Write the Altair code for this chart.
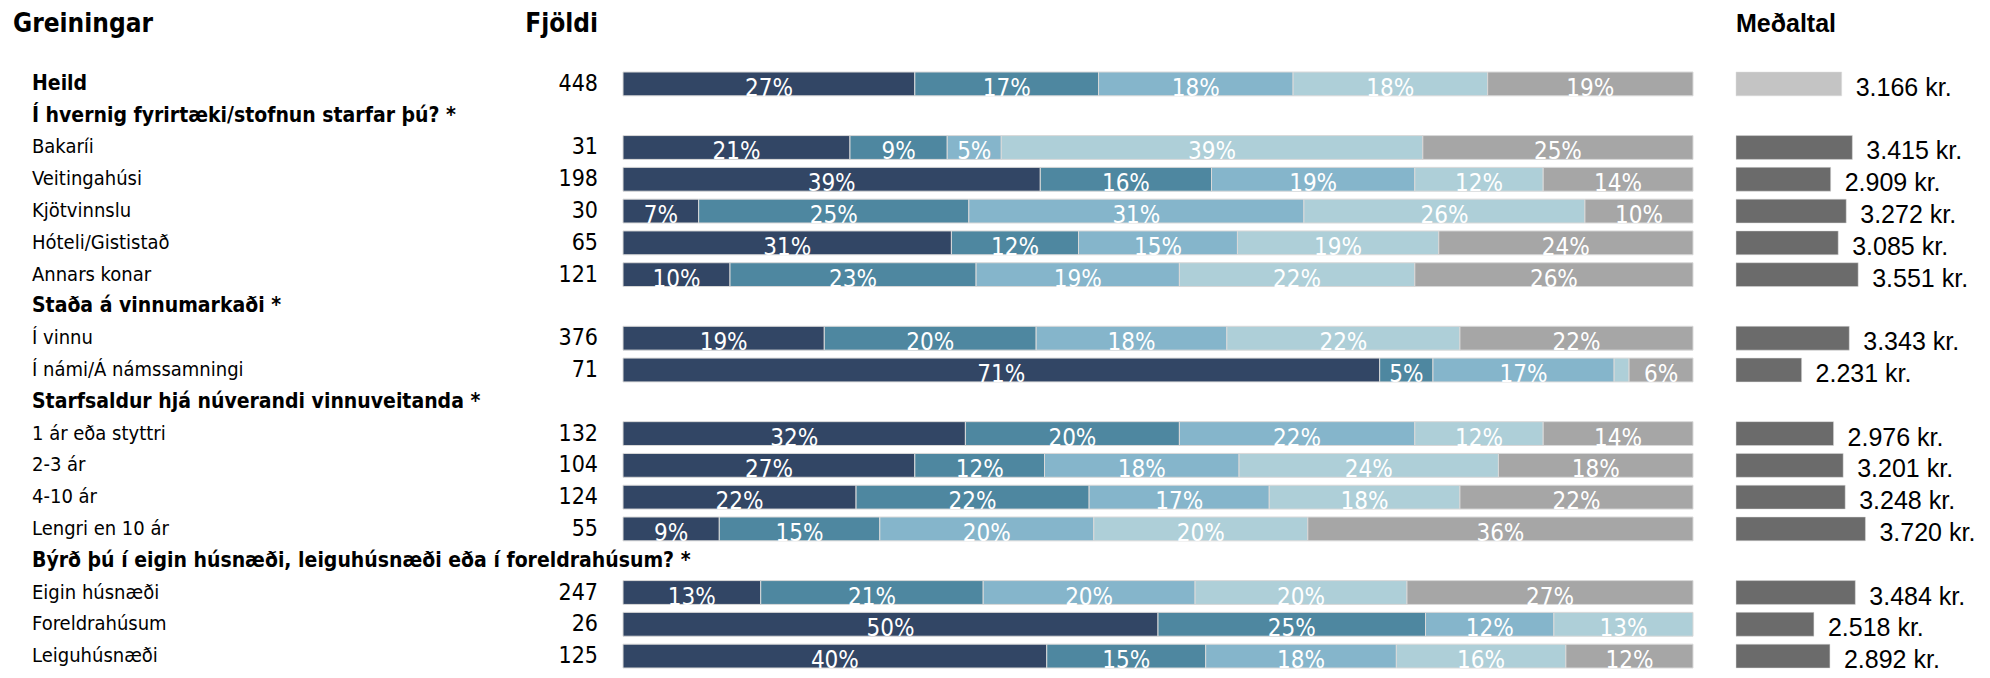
import altair as alt
import pandas as pd

FONT_N = "Liberation Sans Narrow, Arial Narrow, DejaVu Sans Condensed, sans-serif"
FONT_R = "Liberation Sans, Arial, sans-serif"

# ---------------- data ----------------
group_titles = [
    "Í hvernig fyrirtæki/stofnun starfar þú? *",
    "Staða á vinnumarkaði *",
    "Starfsaldur hjá núverandi vinnuveitanda *",
    "Býrð þú í eigin húsnæði, leiguhúsnæði eða í foreldrahúsum? *",
]
group_sizes = [5, 2, 4, 3]

items = ["Heild", "Bakaríi", "Veitingahúsi", "Kjötvinnslu", "Hóteli/Gististað",
         "Annars konar", "Í vinnu", "Í námi/Á námssamningi", "1 ár eða styttri",
         "2-3 ár", "4-10 ár", "Lengri en 10 ár", "Eigin húsnæði",
         "Foreldrahúsum", "Leiguhúsnæði"]
counts = [448, 31, 198, 30, 65, 121, 376, 71, 132, 104, 124, 55, 247, 26, 125]
means = [3.166, 3.415, 2.909, 3.272, 3.085, 3.551, 3.343, 2.231, 2.976,
         3.201, 3.248, 3.720, 3.484, 2.518, 2.892]

p1 = [27, 21, 39, 7, 31, 10, 19, 71, 32, 27, 22, 9, 13, 50, 40]
p2 = [17, 9, 16, 25, 12, 23, 20, 5, 20, 12, 22, 15, 21, 25, 15]
p3 = [18, 5, 19, 31, 15, 19, 18, 17, 22, 18, 17, 20, 20, 12, 18]
p4 = [18, 39, 12, 26, 19, 22, 22, 1.4, 12, 24, 18, 20, 20, 13, 16]
p5 = [19, 25, 14, 10, 24, 26, 22, 6, 14, 18, 22, 36, 27, 0, 12]

cat_names = ["c1", "c2", "c3", "c4", "c5"]
cat_colors = ["#324665", "#4e87a0", "#85b5cb", "#aecfd8", "#a6a6a6"]

# ---------------- tables ----------------
row_order = [items[0]]
k = 1
for t, n in zip(group_titles, group_sizes):
    row_order.append(t)
    row_order.extend(items[k:k + n])
    k += n

items_df = pd.DataFrame({
    "row": items,
    "count": counts,
    "mean": means,
    "base": [0.7] * len(items),
    "mean_lbl": [f"{m:.3f} kr." for m in means],
})
label_df = pd.DataFrame({
    "row": row_order,
    "bold": [r == "Heild" or r in group_titles for r in row_order],
})

recs = []
for i, it in enumerate(items):
    for ci, arr in enumerate([p1, p2, p3, p4, p5]):
        recs.append({"row": it, "cat": cat_names[ci], "ci": ci, "value": arr[i]})
long_df = pd.DataFrame(recs)

# ---------------- scales ----------------
Y = alt.Y("row:N", sort=row_order, axis=None,
          scale=alt.Scale(paddingInner=0.25, paddingOuter=0))
stack_scale = alt.Scale(domain=[0, 1], range=[610, 1680])
mean_scale = alt.Scale(domain=[0.7, 4.2], range=[1723, 1873], zero=False)
HDR_Y = -48

# ---------------- layers ----------------
lbl_norm = alt.Chart(label_df).transform_filter("!datum.bold").mark_text(
    align="left", baseline="middle", font=FONT_N, fontSize=20, color="#000000"
).encode(y=Y, x=alt.value(19), text="row:N")

lbl_bold = alt.Chart(label_df).transform_filter("datum.bold").mark_text(
    align="left", baseline="middle", font=FONT_N, fontSize=21,
    fontWeight="bold", color="#000000"
).encode(y=Y, x=alt.value(19), text="row:N")

cnt = alt.Chart(items_df).mark_text(
    align="right", baseline="middle", font=FONT_N, fontSize=23, color="#000000"
).encode(y=Y, x=alt.value(585), text="count:Q")

stacked = alt.Chart(long_df).transform_filter("datum.value > 0").transform_stack(
    stack="value", groupby=["row"], as_=["v0", "v1"], offset="normalize",
    sort=[alt.SortField("ci", order="ascending")]
)

bars = stacked.mark_bar(stroke="#d9d9d9", strokeWidth=1).encode(
    y=Y,
    x=alt.X("v0:Q", scale=stack_scale, axis=None),
    x2="v1:Q",
    color=alt.Color("cat:N", scale=alt.Scale(domain=cat_names, range=cat_colors),
                    legend=None),
)

pct = stacked.transform_filter("datum.value >= 3").transform_calculate(
    mid="(datum.v0 + datum.v1) / 2",
    lbl="format(datum.value, 'd') + '%'",
).mark_text(
    align="center", baseline="alphabetic", dy=12, font=FONT_N, fontSize=24,
    color="#ffffff"
).encode(
    y=Y,
    x=alt.X("mid:Q", scale=stack_scale, axis=None),
    text="lbl:N",
)

mbars = alt.Chart(items_df).mark_bar(stroke="#dddddd", strokeWidth=0.5).encode(
    y=Y,
    x=alt.X("mean:Q", scale=mean_scale, axis=None),
    x2="base:Q",
    color=alt.condition("datum.row === 'Heild'", alt.value("#c4c4c4"),
                        alt.value("#6b6b6b")),
)

mlbl = alt.Chart(items_df).mark_text(
    align="left", baseline="alphabetic", dx=14, dy=12, font=FONT_R,
    fontSize=25, color="#000000"
).encode(
    y=Y,
    x=alt.X("mean:Q", scale=mean_scale, axis=None),
    text="mean_lbl:N",
)

h1 = alt.Chart(pd.DataFrame({"t": ["Greiningar"]})).mark_text(
    align="left", baseline="middle", font=FONT_N, fontSize=26, fontWeight="bold"
).encode(x=alt.value(0), y=alt.value(HDR_Y), text="t:N")

h2 = alt.Chart(pd.DataFrame({"t": ["Fjöldi"]})).mark_text(
    align="right", baseline="middle", font=FONT_N, fontSize=26, fontWeight="bold"
).encode(x=alt.value(585), y=alt.value(HDR_Y), text="t:N")

h3 = alt.Chart(pd.DataFrame({"t": ["Meðaltal"]})).mark_text(
    align="left", baseline="middle", font=FONT_R, fontSize=25, fontWeight="bold"
).encode(x=alt.value(1723), y=alt.value(HDR_Y), text="t:N")

chart = alt.layer(
    bars, pct, mbars, mlbl, lbl_norm, lbl_bold, cnt, h1, h2, h3
).resolve_scale(x="independent").properties(
    width=1880,
    height=596,
    padding={"left": 5, "top": 3, "right": 0, "bottom": 0},
).configure_view(stroke=None)

chart.save("out.html", embed_options={"renderer": "svg", "actions": False})
